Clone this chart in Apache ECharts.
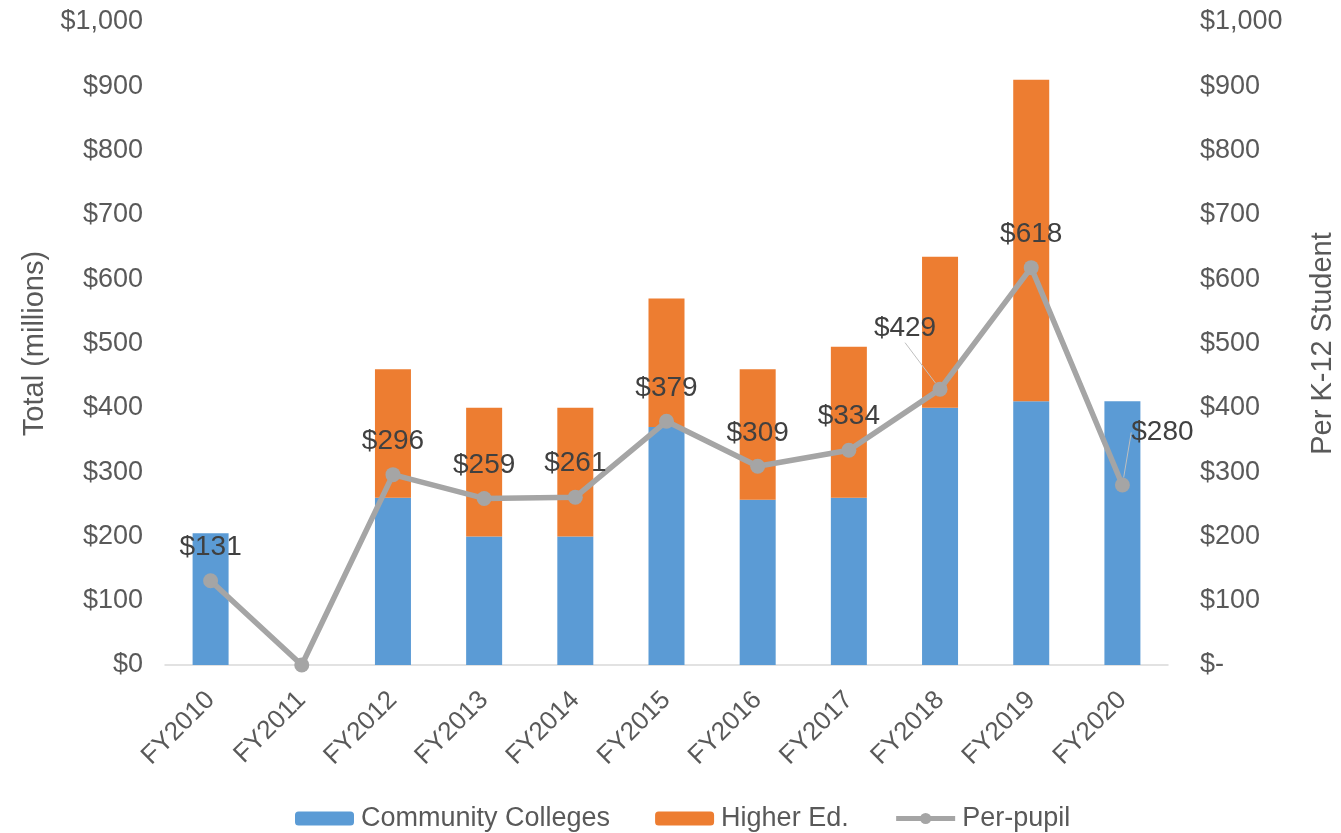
<!DOCTYPE html>
<html>
<head>
<meta charset="utf-8">
<script src="https://cdn.jsdelivr.net/npm/echarts@6/dist/echarts.min.js"></script>
<style>
    html, body {margin: 0; padding: 0; background: #fff;}
    #chart-main {width: 1341px; height: 833px;}
</style>
</head>
<body>
<div id="chart-main"></div>
<script>
let categories = ['FY2010', 'FY2011', 'FY2012', 'FY2013', 'FY2014', 'FY2015', 'FY2016', 'FY2017', 'FY2018', 'FY2019', 'FY2020'];
let communityColleges = [205, null, 260, 200, 200, 370, 257, 260, 400, 410, 410];
let higherEd = [null, null, 200, 200, 200, 200, 203, 235, 235, 500, null];
let perPupil = [131, 0, 296, 259, 261, 379, 309, 334, 429, 618, 280];

let myChart = echarts.init(document.getElementById('chart-main'));

function moneyLabel(v) {
    return '$' + v.toLocaleString('en-US');
}

// FY2011 has no label, FY2018 and FY2020 labels are pulled aside with a leader line
let perPupilData = perPupil.map(function (v, i) {
    let item = {value: v};
    if (i === 1) item.label = {show: false};
    if (i === 8 || i === 10) item.labelLine = {show: true};
    return item;
});

let option = {
    animation: false,
    textStyle: {fontFamily: 'Liberation Sans'},
    grid: {left: 165, right: 173, top: 22, bottom: 168, outerBoundsMode: 'none'},
    legend: {
        top: 800,
        left: 290,
        itemWidth: 59,
        itemHeight: 14,
        itemGap: 45,
        textStyle: {fontSize: 27, color: '#595959', padding: [0, 0, 0, 2]},
        data: [
            'Community Colleges',
            'Higher Ed.',
            {name: 'Per-pupil', lineStyle: {width: 5}}
        ]
    },
    xAxis: {
        type: 'category',
        data: categories,
        axisLine: {lineStyle: {color: '#d9d9d9', width: 1.5}},
        axisTick: {show: false},
        axisLabel: {rotate: 45, fontSize: 26, color: '#595959', margin: 31}
    },
    yAxis: [
        {
            type: 'value',
            min: 0, max: 1000, interval: 100,
            name: 'Total (millions)',
            nameLocation: 'middle',
            nameGap: 115,
            nameTextStyle: {fontSize: 29, color: '#595959'},
            splitLine: {show: false},
            axisLabel: {fontSize: 27, color: '#595959', margin: 22, formatter: moneyLabel}
        },
        {
            type: 'value',
            min: 0, max: 1000, interval: 100,
            name: 'Per K-12 Student',
            nameLocation: 'middle',
            nameGap: 140,
            nameRotate: 90,
            nameTextStyle: {fontSize: 29, color: '#595959'},
            splitLine: {show: false},
            axisLabel: {
                fontSize: 27, color: '#595959', margin: 32,
                formatter: function (v) { return v === 0 ? '$-' : moneyLabel(v); }
            }
        }
    ],
    series: [
        {
            name: 'Community Colleges',
            type: 'bar',
            stack: 'total',
            barWidth: 36,
            itemStyle: {color: '#5B9BD5'},
            data: communityColleges
        },
        {
            name: 'Higher Ed.',
            type: 'bar',
            stack: 'total',
            barWidth: 36,
            itemStyle: {color: '#ED7D31'},
            data: higherEd
        },
        {
            name: 'Per-pupil',
            type: 'line',
            yAxisIndex: 1,
            symbol: 'circle',
            symbolSize: 15,
            lineStyle: {color: '#A5A5A5', width: 5.5},
            itemStyle: {color: '#A5A5A5'},
            label: {
                show: true,
                position: 'top',
                distance: 12,
                fontSize: 28,
                color: '#404040',
                formatter: function (p) { return '$' + p.value; }
            },
            labelLine: {show: false, lineStyle: {color: '#bfbfbf', width: 1}},
            labelLayout: function (params) {
                if (params.dataIndex === 8) return {dx: -35, dy: -27};
                if (params.dataIndex === 10) return {dx: 40, dy: -19};
                return {};
            },
            data: perPupilData
        }
    ]
};
option && myChart.setOption(option);
</script>
</body>
</html>
